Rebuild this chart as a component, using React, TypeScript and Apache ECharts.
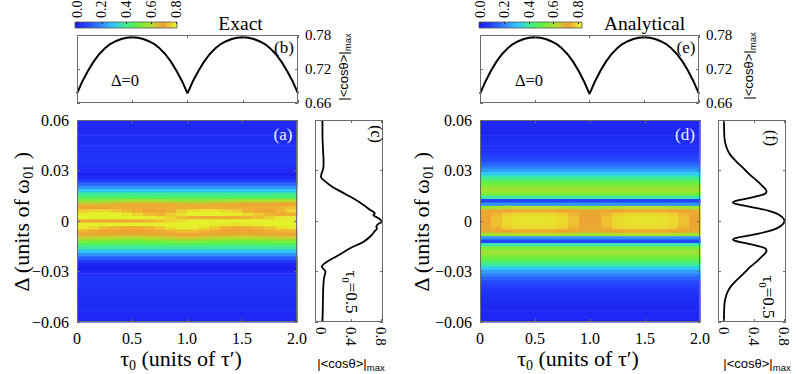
import React, { useEffect, useRef } from "react";
import * as echarts from "echarts";

const SERIF = "Liberation Serif";
const SANS = "Liberation Sans";

// colour scale of |<cos θ>|max (0 … 0.8, one colour every 0.05)
const COLORS = [
  "#1a1aee", "#2030f8", "#2646ff", "#2a66ff", "#2e86ff", "#30a6fe", "#30c6fa", "#36dcc4", "#3ef08a",
  "#50f060", "#66f03c", "#90e634", "#b6dc2c", "#dcb830", "#f0a232", "#ecd42e", "#e4f22a",
];
const C_MIN = 0;
const C_MAX = 0.8;
const CBAR_TICKS = [0, 0.2, 0.4, 0.6, 0.8];
const PROFILE_TICKS = [0, 0.4, 0.8];

// heat-map grid: τ0 cell edges and Δ row centres
const TAU_EDGES = [0, 0.1, 0.2, 0.3, 0.4, 0.5, 0.6, 0.7, 0.8, 0.9, 1.0, 1.1, 1.2, 1.3, 1.4, 1.5, 1.6, 1.7, 1.8, 1.9, 2.0];
const ROW_STEP = 0.002;
const DELTA_ROWS = [
  0.06, 0.058, 0.056, 0.054, 0.052, 0.05, 0.048, 0.046, 0.044, 0.042,
  0.04, 0.038, 0.036, 0.034, 0.032, 0.03, 0.028, 0.026, 0.024, 0.022,
  0.02, 0.018, 0.016, 0.014, 0.012, 0.01, 0.008, 0.006, 0.004, 0.002,
  0,
  -0.002, -0.004, -0.006, -0.008, -0.01, -0.012, -0.014, -0.016, -0.018, -0.02,
  -0.022, -0.024, -0.026, -0.028, -0.03, -0.032, -0.034, -0.036, -0.038, -0.04,
  -0.042, -0.044, -0.046, -0.048, -0.05, -0.052, -0.054, -0.056, -0.058, -0.06,
];

// (a) exact: rows constant in τ0 (null = row given in EXACT_CORE)
const EXACT_PROFILE = [
  0.035, 0.035, 0.035, 0.035, 0.038, 0.04, 0.04, 0.045, 0.05, 0.05,
  0.055, 0.06, 0.06, 0.06, 0.05, 0.03, 0.01, 0.03, 0.08, 0.15,
  0.23, 0.31, 0.39, 0.45, null, null, null, null, null, null,
  null,
  null, null, null, null, null, null, 0.44, 0.38, 0.3, 0.22,
  0.14, 0.07, 0.03, 0.01, 0.03, 0.05, 0.06, 0.06, 0.06, 0.055,
  0.05, 0.05, 0.045, 0.04, 0.04, 0.038, 0.035, 0.035, 0.035, 0.035,
];
const EXACT_CORE_DELTA = [0.012, 0.01, 0.008, 0.006, 0.004, 0.002, 0, -0.002, -0.004, -0.006, -0.008, -0.01, -0.012];
const EXACT_CORE = [
  [0.54, 0.54, 0.55, 0.56, 0.57, 0.58, 0.58, 0.57, 0.56, 0.55, 0.55, 0.55, 0.56, 0.57, 0.58, 0.59, 0.59, 0.59, 0.6, 0.6],
  [0.64, 0.64, 0.65, 0.66, 0.67, 0.68, 0.68, 0.68, 0.67, 0.66, 0.65, 0.65, 0.66, 0.67, 0.68, 0.69, 0.69, 0.69, 0.7, 0.7],
  [0.7, 0.7, 0.7, 0.71, 0.71, 0.71, 0.71, 0.71, 0.71, 0.71, 0.71, 0.71, 0.71, 0.71, 0.71, 0.71, 0.71, 0.71, 0.72, 0.73],
  [0.74, 0.76, 0.76, 0.74, 0.72, 0.71, 0.7, 0.7, 0.71, 0.74, 0.77, 0.78, 0.78, 0.76, 0.74, 0.71, 0.7, 0.7, 0.72, 0.75],
  [0.79, 0.8, 0.8, 0.8, 0.78, 0.75, 0.73, 0.72, 0.74, 0.77, 0.8, 0.8, 0.8, 0.8, 0.79, 0.76, 0.74, 0.72, 0.71, 0.71],
  [0.8, 0.8, 0.8, 0.8, 0.8, 0.8, 0.79, 0.78, 0.75, 0.73, 0.71, 0.71, 0.71, 0.71, 0.71, 0.72, 0.73, 0.75, 0.78, 0.79],
  [0.71, 0.71, 0.71, 0.71, 0.71, 0.71, 0.72, 0.73, 0.75, 0.77, 0.79, 0.8, 0.8, 0.8, 0.8, 0.8, 0.8, 0.8, 0.8, 0.8],
  [0.79, 0.8, 0.8, 0.8, 0.8, 0.8, 0.8, 0.8, 0.8, 0.8, 0.8, 0.8, 0.79, 0.78, 0.77, 0.78, 0.79, 0.8, 0.8, 0.8],
  [0.78, 0.76, 0.73, 0.72, 0.71, 0.71, 0.72, 0.74, 0.77, 0.79, 0.79, 0.77, 0.74, 0.72, 0.71, 0.71, 0.72, 0.74, 0.77, 0.78],
  [0.72, 0.71, 0.7, 0.7, 0.7, 0.7, 0.7, 0.71, 0.72, 0.73, 0.73, 0.72, 0.71, 0.7, 0.7, 0.7, 0.7, 0.71, 0.72, 0.72],
  [0.69, 0.68, 0.68, 0.67, 0.67, 0.67, 0.68, 0.68, 0.69, 0.7, 0.7, 0.69, 0.68, 0.68, 0.67, 0.67, 0.68, 0.68, 0.69, 0.7],
  [0.62, 0.61, 0.6, 0.6, 0.59, 0.59, 0.6, 0.61, 0.62, 0.63, 0.63, 0.62, 0.61, 0.6, 0.6, 0.6, 0.6, 0.61, 0.62, 0.62],
  [0.53, 0.52, 0.52, 0.51, 0.51, 0.51, 0.52, 0.52, 0.53, 0.54, 0.54, 0.53, 0.52, 0.52, 0.51, 0.51, 0.52, 0.52, 0.53, 0.53],
];

// (d) analytical
const ANALYTIC_PROFILE = [
  0.03, 0.03, 0.03, 0.03, 0.03, 0.035, 0.04, 0.045, 0.05, 0.06,
  0.07, 0.09, 0.11, 0.14, 0.19, 0.24, 0.31, 0.38, 0.45, 0.51,
  0.55, 0.57, 0.52, 0.37, 0.09, 0.22, null, null, null, null,
  null,
  null, null, null, null, 0.22, 0.09, 0.37, 0.52, 0.57, 0.55,
  0.51, 0.45, 0.38, 0.31, 0.24, 0.19, 0.14, 0.11, 0.09, 0.07,
  0.06, 0.05, 0.045, 0.04, 0.035, 0.03, 0.03, 0.03, 0.03, 0.03,
];
const ANALYTIC_CORE_DELTA = [0.008, 0.006, 0.004, 0.002, 0, -0.002, -0.004, -0.006, -0.008];
const ANALYTIC_CORE = [
  [0.56, 0.58, 0.59, 0.6, 0.6, 0.6, 0.6, 0.59, 0.58, 0.56, 0.56, 0.58, 0.59, 0.6, 0.6, 0.6, 0.6, 0.59, 0.58, 0.56],
  [0.68, 0.69, 0.7, 0.71, 0.71, 0.71, 0.71, 0.7, 0.69, 0.68, 0.68, 0.69, 0.7, 0.71, 0.71, 0.71, 0.71, 0.7, 0.69, 0.68],
  [0.69, 0.72, 0.745, 0.755, 0.76, 0.76, 0.755, 0.745, 0.72, 0.69, 0.69, 0.72, 0.745, 0.755, 0.76, 0.76, 0.755, 0.745, 0.72, 0.69],
  [0.69, 0.73, 0.758, 0.77, 0.775, 0.775, 0.77, 0.758, 0.73, 0.69, 0.69, 0.73, 0.758, 0.77, 0.775, 0.775, 0.77, 0.758, 0.73, 0.69],
  [0.697, 0.733, 0.76, 0.772, 0.777, 0.777, 0.772, 0.76, 0.733, 0.697, 0.697, 0.733, 0.76, 0.772, 0.777, 0.777, 0.772, 0.76, 0.733, 0.697],
  [0.69, 0.73, 0.758, 0.77, 0.775, 0.775, 0.77, 0.758, 0.73, 0.69, 0.69, 0.73, 0.758, 0.77, 0.775, 0.775, 0.77, 0.758, 0.73, 0.69],
  [0.69, 0.72, 0.745, 0.755, 0.76, 0.76, 0.755, 0.745, 0.72, 0.69, 0.69, 0.72, 0.745, 0.755, 0.76, 0.76, 0.755, 0.745, 0.72, 0.69],
  [0.68, 0.69, 0.7, 0.71, 0.71, 0.71, 0.71, 0.7, 0.69, 0.68, 0.68, 0.69, 0.7, 0.71, 0.71, 0.71, 0.71, 0.7, 0.69, 0.68],
  [0.56, 0.58, 0.59, 0.6, 0.6, 0.6, 0.6, 0.59, 0.58, 0.56, 0.56, 0.58, 0.59, 0.6, 0.6, 0.6, 0.6, 0.59, 0.58, 0.56],
];

// (b), (e): Δ = 0 cut versus τ0
const B_TAU = [
  0, 0.05, 0.1, 0.15, 0.2, 0.25, 0.3, 0.35, 0.4, 0.45, 0.5, 0.55, 0.6, 0.65, 0.7, 0.75, 0.8, 0.85, 0.9, 0.95,
  1.0, 1.05, 1.1, 1.15, 1.2, 1.25, 1.3, 1.35, 1.4, 1.45, 1.5, 1.55, 1.6, 1.65, 1.7, 1.75, 1.8, 1.85, 1.9, 1.95, 2.0,
];
const B_VAL = [
  0.677, 0.699, 0.717, 0.733, 0.746, 0.756, 0.764, 0.769, 0.773, 0.775, 0.776, 0.775, 0.773, 0.769, 0.764, 0.756, 0.746, 0.733, 0.717, 0.699,
  0.677, 0.699, 0.717, 0.733, 0.746, 0.756, 0.764, 0.769, 0.773, 0.775, 0.776, 0.775, 0.773, 0.769, 0.764, 0.756, 0.746, 0.733, 0.717, 0.699, 0.677,
];
const E_VAL = [
  0.676, 0.698, 0.717, 0.733, 0.746, 0.756, 0.764, 0.769, 0.773, 0.775, 0.776, 0.775, 0.773, 0.769, 0.764, 0.756, 0.746, 0.733, 0.717, 0.698,
  0.676, 0.698, 0.717, 0.733, 0.746, 0.756, 0.764, 0.769, 0.773, 0.775, 0.776, 0.775, 0.773, 0.769, 0.764, 0.756, 0.746, 0.733, 0.717, 0.698, 0.676,
];

// (c), (f): τ0 = 0.5 cut versus Δ
const C_DELTA = [0.06, 0.05, 0.045, 0.04, 0.035, 0.031, 0.0285, 0.0263, 0.0234, 0.0204, 0.0164, 0.0125, 0.0085, 0.0065, 0.0055, 0.0045, 0.0035, 0.0026, 0.001, -0.0004, -0.002, -0.0034, -0.0045, -0.006, -0.0083, -0.0123, -0.0162, -0.0202, -0.0242, -0.0271, -0.0301, -0.034, -0.04, -0.05, -0.06];
const C_VAL = [0.02, 0.02, 0.025, 0.03, 0.035, 0.03, 0.01, 0.0, 0.06, 0.15, 0.31, 0.47, 0.6, 0.66, 0.7, 0.72, 0.7, 0.73, 0.79, 0.81, 0.76, 0.74, 0.75, 0.72, 0.68, 0.57, 0.39, 0.24, 0.08, 0.01, 0.06, 0.04, 0.03, 0.025, 0.02];
const F_DELTA = [0.06, 0.052, 0.048, 0.045, 0.042, 0.039, 0.036, 0.033, 0.03, 0.027, 0.024, 0.021, 0.019, 0.0175, 0.016, 0.0145, 0.013, 0.0118, 0.011, 0.01, 0.009, 0.0075, 0.006, 0.0045, 0.003, 0.0015, 0, -0.0015, -0.003, -0.0045, -0.006, -0.0075, -0.009, -0.01, -0.011, -0.0118, -0.013, -0.0145, -0.016, -0.0175, -0.019, -0.021, -0.024, -0.027, -0.03, -0.033, -0.036, -0.039, -0.042, -0.045, -0.048, -0.052, -0.06];
const F_VAL = [0.0, 0.003, 0.01, 0.025, 0.05, 0.09, 0.15, 0.22, 0.29, 0.36, 0.44, 0.51, 0.555, 0.57, 0.54, 0.42, 0.27, 0.15, 0.12, 0.17, 0.29, 0.46, 0.6, 0.7, 0.76, 0.795, 0.81, 0.795, 0.76, 0.7, 0.6, 0.46, 0.29, 0.17, 0.12, 0.15, 0.27, 0.42, 0.54, 0.57, 0.555, 0.51, 0.44, 0.36, 0.29, 0.22, 0.15, 0.09, 0.05, 0.025, 0.01, 0.003, 0.0];

// ---------- layout ----------
const G_B = { left: 77, top: 35, width: 221, height: 68 };
const G_A = { left: 77, top: 120, width: 220, height: 202 };
const G_C = { left: 315, top: 120, width: 68, height: 202 };
const G_E = { left: 480, top: 35, width: 219, height: 68 };
const G_D = { left: 480, top: 120, width: 220, height: 202 };
const G_F = { left: 718, top: 120, width: 68, height: 202 };
const G_CBL = { left: 77, top: 22, width: 99, height: 6 };
const G_CBR = { left: 480, top: 22, width: 98, height: 6 };
const BAR_L = { x: 75, y: 22, width: 102, height: 6 };
const BAR_R = { x: 479, y: 22, width: 103, height: 6 };
const FRAME = "#6b6b6b";

function buildCells(profile: (number | null)[], coreDelta: number[], core: number[][]) {
  const cells: number[][] = [];
  DELTA_ROWS.forEach((d, i) => {
    const v = profile[i];
    if (v !== null && v !== undefined) {
      cells.push([TAU_EDGES[0], TAU_EDGES[TAU_EDGES.length - 1], d, v]);
    } else {
      const r = coreDelta.findIndex((cd) => Math.abs(cd - d) < 1e-9);
      core[r].forEach((cv, c) => cells.push([TAU_EDGES[c], TAU_EDGES[c + 1], d, cv]));
    }
  });
  return cells;
}

const renderCell = (params: any, api: any) => {
  const x0 = api.value(0);
  const x1 = api.value(1);
  const d = api.value(2);
  const top = Math.min(d + ROW_STEP / 2, 0.06);
  const bot = Math.max(d - ROW_STEP / 2, -0.06);
  const p0 = api.coord([x0, top]);
  const p1 = api.coord([x1, bot]);
  return {
    type: "rect",
    shape: { x: p0[0], y: p0[1], width: p1[0] - p0[0] + 0.6, height: p1[1] - p0[1] + 0.6 },
    style: { fill: api.visual("color") },
  };
};

const TICK = { show: true, inside: true, length: 3, lineStyle: { color: FRAME, width: 1 } };
const lbl = (size: number) => ({ show: true, fontFamily: SERIF, fontSize: size, color: "#000" });
const fmtDelta = (v: number) => (Math.abs(v) < 1e-9 ? "0" : (v < 0 ? "\u2212" : "") + Math.abs(v).toFixed(2));
const fmtTau = (v: number) => (Math.abs(v) < 1e-9 ? "0" : v.toFixed(1));

function ax(gridIndex: number, extra: any) {
  return Object.assign(
    {
      type: "value",
      gridIndex,
      z: 6,
      splitLine: { show: false },
      axisLine: { show: false, onZero: false },
      axisTick: TICK,
      axisLabel: { show: false },
    },
    extra
  );
}

const grid = (g: any) => ({ ...g, containLabel: false, outerBoundsMode: "none", show: false });

function text(x: number, y: number, t: string, size: number, extra: any = {}) {
  return {
    type: "text",
    x,
    y,
    rotation: extra.rotation || 0,
    z: 120,
    silent: true,
    style: {
      text: t,
      fontFamily: extra.family || SERIF,
      fontSize: size,
      fill: extra.fill || "#000",
      align: "center",
      verticalAlign: "middle",
      rich: extra.rich,
    },
  };
}

const frame = (g: any) => ({
  type: "rect",
  z: 110,
  silent: true,
  shape: { x: g.left + 0.5, y: g.top + 0.5, width: g.width - 1, height: g.height - 1 },
  style: { fill: "none", stroke: FRAME, lineWidth: 1 },
});

const gradient = () => ({
  type: "linear",
  x: 0,
  y: 0,
  x2: 1,
  y2: 0,
  colorStops: COLORS.map((c, i) => ({ offset: i / (COLORS.length - 1), color: c })),
});

function buildOption() {
  const axisNameRich = (size: number) => ({
    n: { fontFamily: SERIF, fontSize: size, lineHeight: 28 },
    s: { fontFamily: SERIF, fontSize: Math.round(size * 0.62), lineHeight: 14, verticalAlign: "bottom" },
  });
  const cosRich = {
    n: { fontFamily: SANS, fontSize: 13, lineHeight: 18 },
    s: { fontFamily: SANS, fontSize: 9.5, lineHeight: 9, verticalAlign: "bottom" },
  };
  const tauRich = {
    n: { fontFamily: SERIF, fontSize: 17, lineHeight: 22 },
    s: { fontFamily: SERIF, fontSize: 11, lineHeight: 11, verticalAlign: "bottom" },
  };
  const cbarAxis = (gi: number) => ({
    type: "value",
    gridIndex: gi,
    position: "top",
    min: C_MIN,
    max: C_MAX,
    interval: 0.2,
    z: 12,
    splitLine: { show: false },
    axisLine: { show: false, onZero: false },
    axisTick: { show: true, inside: true, length: 2, lineStyle: { color: "#333", width: 1 }, customValues: CBAR_TICKS },
    axisLabel: { ...lbl(14), rotate: -90, margin: 4, customValues: CBAR_TICKS, formatter: (v: number) => v.toFixed(1) },
  });
  const profX = (gi: number, pos: string, labels: boolean) =>
    ax(gi, {
      position: pos,
      min: -0.08,
      max: 0.83,
      axisTick: { ...TICK, customValues: PROFILE_TICKS },
      axisLabel: labels
        ? { ...lbl(15), rotate: -90, margin: 5, customValues: PROFILE_TICKS, formatter: fmtTau }
        : { show: false },
    });
  const tauX = (gi: number, pos: string, labels: boolean) =>
    ax(gi, {
      position: pos,
      min: 0,
      max: 2,
      interval: 0.5,
      axisLabel: labels ? { ...lbl(16), margin: 8, formatter: fmtTau } : { show: false },
    });
  const deltaY = (gi: number, pos: string, labels: boolean) =>
    ax(gi, {
      position: pos,
      min: -0.06,
      max: 0.06,
      interval: 0.03,
      axisLabel: labels ? { ...lbl(16), margin: 8, formatter: fmtDelta } : { show: false },
    });
  const cutY = (gi: number, pos: string, labels: boolean) =>
    ax(gi, {
      position: pos,
      min: 0.66,
      max: 0.78,
      interval: 0.06,
      axisLabel: labels ? { ...lbl(15), margin: 7, formatter: (v: number) => v.toFixed(2) } : { show: false },
    });

  return {
    animation: false,
    backgroundColor: "#fff",
    textStyle: { fontFamily: SERIF },
    grid: [grid(G_B), grid(G_A), grid(G_C), grid(G_E), grid(G_D), grid(G_F), grid(G_CBL), grid(G_CBR)],
    xAxis: [
      tauX(0, "bottom", false),
      tauX(0, "top", false),
      tauX(1, "bottom", true),
      tauX(1, "top", false),
      profX(2, "bottom", true),
      profX(2, "top", false),
      tauX(3, "bottom", false),
      tauX(3, "top", false),
      tauX(4, "bottom", true),
      tauX(4, "top", false),
      profX(5, "bottom", true),
      profX(5, "top", false),
      cbarAxis(6),
      cbarAxis(7),
    ],
    yAxis: [
      cutY(0, "left", false),
      cutY(0, "right", true),
      deltaY(1, "left", true),
      deltaY(1, "right", false),
      deltaY(2, "left", false),
      deltaY(2, "right", false),
      cutY(3, "left", false),
      cutY(3, "right", true),
      deltaY(4, "left", true),
      deltaY(4, "right", false),
      deltaY(5, "left", false),
      deltaY(5, "right", false),
      { type: "value", gridIndex: 6, show: false, min: 0, max: 1 },
      { type: "value", gridIndex: 7, show: false, min: 0, max: 1 },
    ],
    visualMap: [
      {
        type: "continuous",
        show: false,
        min: C_MIN,
        max: C_MAX,
        dimension: 3,
        seriesIndex: [0, 1],
        inRange: { color: COLORS },
      },
    ],
    series: [
      {
        type: "custom",
        name: "Exact",
        xAxisIndex: 2,
        yAxisIndex: 2,
        silent: true,
        renderItem: renderCell,
        encode: { x: [0, 1], y: 2 },
        data: buildCells(EXACT_PROFILE, EXACT_CORE_DELTA, EXACT_CORE),
      },
      {
        type: "custom",
        name: "Analytical",
        xAxisIndex: 8,
        yAxisIndex: 8,
        silent: true,
        renderItem: renderCell,
        encode: { x: [0, 1], y: 2 },
        data: buildCells(ANALYTIC_PROFILE, ANALYTIC_CORE_DELTA, ANALYTIC_CORE),
      },
      {
        type: "line",
        xAxisIndex: 0,
        yAxisIndex: 1,
        symbol: "none",
        silent: true,
        lineStyle: { color: "#000", width: 2 },
        data: B_TAU.map((t, i) => [t, B_VAL[i]]),
      },
      {
        type: "line",
        xAxisIndex: 4,
        yAxisIndex: 4,
        symbol: "none",
        silent: true,
        smooth: 0.3,
        lineStyle: { color: "#000", width: 1.8 },
        data: C_VAL.map((v, i) => [v, C_DELTA[i]]),
      },
      {
        type: "line",
        xAxisIndex: 6,
        yAxisIndex: 7,
        symbol: "none",
        silent: true,
        lineStyle: { color: "#000", width: 2 },
        data: B_TAU.map((t, i) => [t, E_VAL[i]]),
      },
      {
        type: "line",
        xAxisIndex: 10,
        yAxisIndex: 10,
        symbol: "none",
        silent: true,
        smooth: 0.3,
        lineStyle: { color: "#000", width: 1.8 },
        data: F_VAL.map((v, i) => [v, F_DELTA[i]]),
      },
      { type: "scatter", xAxisIndex: 12, yAxisIndex: 12, data: [] },
      { type: "scatter", xAxisIndex: 13, yAxisIndex: 13, data: [] },
    ],
    graphic: [
      { type: "rect", z: 1, silent: true, shape: BAR_L, style: { fill: gradient(), stroke: "#555", lineWidth: 0.8 } },
      { type: "rect", z: 1, silent: true, shape: BAR_R, style: { fill: gradient(), stroke: "#555", lineWidth: 0.8 } },
      frame(G_B),
      frame(G_A),
      frame(G_C),
      frame(G_E),
      frame(G_D),
      frame(G_F),
      text(240.5, 23, "Exact", 19.5),
      text(644.5, 23, "Analytical", 19.5),
      text(284, 47, "(b)", 17),
      text(686, 47, "(e)", 17),
      text(125, 80, "\u0394=0", 16.5),
      text(529, 80, "\u0394=0", 16.5),
      text(283, 134, "(a)", 17, { fill: "#eef0ff" }),
      text(685, 134, "(d)", 17, { fill: "#eef0ff" }),
      text(376, 134, "(c)", 16, { rotation: -Math.PI / 2 }),
      text(771, 138, "(f)", 16, { rotation: -Math.PI / 2 }),
      text(351, 292, "{n|\u03c4}{s|0}{n|=0.5}", 17, { rotation: -Math.PI / 2, rich: tauRich }),
      text(768, 297, "{n|\u03c4}{s|0}{n|=0.5}", 17, { rotation: -Math.PI / 2, rich: tauRich }),
      text(343, 67, "{n||<cos\u03b8>|}{s|max}", 13, { rotation: Math.PI / 2, family: SANS, rich: cosRich }),
      text(748, 66, "{n||<cos\u03b8>|}{s|max}", 13, { rotation: Math.PI / 2, family: SANS, rich: cosRich }),
      text(351, 363, "{n||<cos\u03b8>|}{s|max}", 13, { family: SANS, rich: cosRich }),
      text(757, 363, "{n||<cos\u03b8>|}{s|max}", 13, { family: SANS, rich: cosRich }),
      text(21, 222, "{n|\u0394 (units of \u03c9}{s|01}{n| )}", 22, { rotation: Math.PI / 2, rich: axisNameRich(22) }),
      text(421, 222, "{n|\u0394 (units of \u03c9}{s|01}{n| )}", 22, { rotation: Math.PI / 2, rich: axisNameRich(22) }),
      text(181, 358, "{n|\u03c4}{s|0}{n| (units of \u03c4\u2032)}", 22, { rich: axisNameRich(22) }),
      text(578, 358, "{n|\u03c4}{s|0}{n| (units of \u03c4\u2032)}", 22, { rich: axisNameRich(22) }),
    ],
  };
}

export default function App() {
  const ref = useRef<HTMLDivElement>(null);
  useEffect(() => {
    if (!ref.current) return;
    const chart = echarts.init(ref.current, null, { renderer: "svg", width: 796, height: 374 });
    chart.setOption(buildOption() as any);
    return () => chart.dispose();
  }, []);
  return (
    <div
      ref={ref}
      style={{ position: "fixed", left: 0, top: 0, width: 796, height: 374, background: "#fff" }}
    />
  );
}
